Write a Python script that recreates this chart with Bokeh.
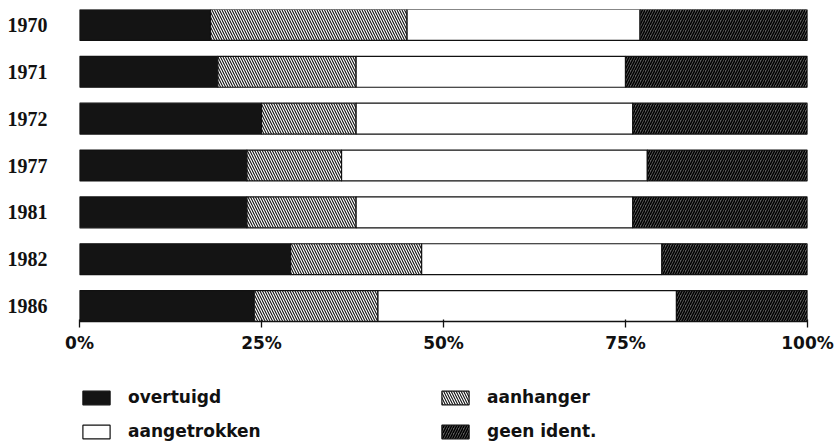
from bokeh.plotting import figure
from bokeh.layouts import column
from bokeh.models import Range1d, FixedTicker, Legend, LegendItem, ColumnDataSource
from bokeh.embed import file_html
from bokeh.resources import INLINE

years = ["1970", "1971", "1972", "1977", "1981", "1982", "1986"]
overtuigd = [18, 19, 25, 23, 23, 29, 24]
aanhanger = [27, 19, 13, 13, 15, 18, 17]
aangetrokken = [32, 37, 38, 42, 38, 33, 41]
geen_ident = [23, 25, 24, 22, 24, 20, 18]
x_ticks = [0, 25, 50, 75, 100]
x_tick_labels = ["0%", "25%", "50%", "75%", "100%"]
series_names = ["overtuigd", "aanhanger", "aangetrokken", "geen ident."]

n = len(years)
ypos = [n - 1 - i for i in range(n)]

p = figure(width=840, height=371, output_backend="svg", toolbar_location=None,
           x_range=Range1d(0, 100), y_range=Range1d(-0.33, n - 1 + 0.33),
           min_border_left=79, min_border_right=33, min_border_top=9, min_border_bottom=50)
p.outline_line_color = None
p.xgrid.visible = False
p.ygrid.visible = False
p.background_fill_color = "white"

styles = [
    dict(fill_color="#141414"),
    dict(fill_color="white", hatch_pattern="left_diagonal_line", hatch_color="#111111",
         hatch_scale=5, hatch_weight=1.1),
    dict(fill_color="white"),
    dict(fill_color="#5e5e5e", hatch_pattern="right_diagonal_line", hatch_color="#000000",
         hatch_scale=5, hatch_weight=1.5),
]

series = [overtuigd, aanhanger, aangetrokken, geen_ident]
cum = [0] * n
for vals, st in zip(series, styles):
    left = list(cum)
    right = [c + v for c, v in zip(cum, vals)]
    cum = right
    src = ColumnDataSource(dict(y=ypos, left=left, right=right))
    p.hbar(y="y", left="left", right="right", height=0.66, source=src,
           line_color="#111111", line_width=1.2, **st)

# x axis
xa = p.xaxis[0]
xa.ticker = FixedTicker(ticks=x_ticks)
xa.major_label_overrides = {t: l for t, l in zip(x_ticks, x_tick_labels)}
xa.minor_tick_line_color = None
xa.major_tick_in = 2
xa.major_tick_out = 6
xa.major_tick_line_width = 1.3
xa.axis_line_width = 1.5
xa.axis_line_color = "#111111"
xa.major_tick_line_color = "#111111"
xa.major_label_standoff = 5
xa.major_label_text_font = "DejaVu Sans"
xa.major_label_text_font_style = "bold"
xa.major_label_text_font_size = "17px"
xa.major_label_text_color = "#111111"

# y axis
ya = p.yaxis[0]
ya.ticker = FixedTicker(ticks=ypos)
ya.major_label_overrides = {y: yr for y, yr in zip(ypos, years)}
ya.axis_line_color = None
ya.major_tick_line_color = None
ya.minor_tick_line_color = None
ya.major_label_standoff = 26
ya.major_label_text_font = "Liberation Serif"
ya.major_label_text_font_style = "bold"
ya.major_label_text_font_size = "20px"
ya.major_label_text_color = "#111111"

# legend figure (swatches drawn from the same styles; their single bar lies outside the view)
q = figure(width=840, height=76, output_backend="svg", toolbar_location=None,
           x_range=Range1d(0, 1), y_range=Range1d(0, 1), x_axis_type=None, y_axis_type=None,
           min_border_left=79, min_border_right=33, min_border_top=0, min_border_bottom=0)
q.outline_line_color = None
q.xgrid.visible = False
q.ygrid.visible = False
legend_renderers = []
for st in styles:
    src = ColumnDataSource(dict(y=[-10], left=[0], right=[1]))
    r = q.hbar(y="y", left="left", right="right", height=0.5, source=src,
               line_color="#111111", line_width=1.2, **st)
    legend_renderers.append(r)

items = [LegendItem(label=nm, renderers=[r]) for nm, r in zip(series_names, legend_renderers)]
legend = Legend(items=items, location=(0, 6), orientation="horizontal", ncols=2,
                glyph_width=34, glyph_height=17, label_height=17, label_standoff=15,
                label_width=296, spacing=14, padding=0, margin=0,
                border_line_color=None, background_fill_alpha=0,
                label_text_font="DejaVu Sans", label_text_font_style="bold",
                label_text_font_size="17px", label_text_color="#111111")
q.add_layout(legend, "center")

layout = column(p, q, spacing=0)
open("out.html", "w").write(file_html(layout, INLINE))
